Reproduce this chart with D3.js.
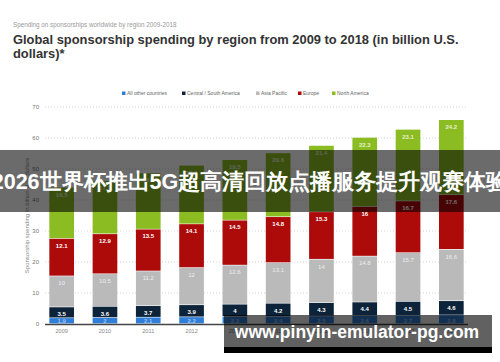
<!DOCTYPE html>
<html>
<head>
<meta charset="utf-8">
<script src="https://cdn.jsdelivr.net/npm/d3@7"></script>
<style>
  body { margin: 0; background: #fff; }
  text { font-family: "Liberation Sans", Arial, sans-serif; }
</style>
</head>
<body>
<script>
const WIDTH = 500;
const HEIGHT = 362;

// data
const years = ["2009", "2010", "2011", "2012", "2013", "2014", "2015", "2016", "2017", "2018**"];
const regions = ["All other countries", "Central / South America", "Asia Pacific", "Europe", "North America"];
const otherCountries = [1.9, 2, 2.1, 2.2, 2.3, 2.4, 2.5, 2.6, 2.7, 2.8];
const centralSouthAmerica = [3.5, 3.6, 3.7, 3.9, 4, 4.2, 4.3, 4.4, 4.5, 4.6];
const asiaPacific = [10, 10.5, 11.2, 12, 12.6, 13.1, 14, 14.8, 15.7, 16.6];
const europe = [12.1, 12.9, 13.5, 14.1, 14.5, 14.8, 15.3, 16, 16.7, 17.6];
const northAmerica = [16.5, 17.1, 18.1, 18.9, 19.5, 20.6, 21.4, 22.3, 23.1, 24.2];
const yTicks = [0, 10, 20, 30, 40, 50, 60, 70];

const colors = ["#2f7ed8", "#0d233a", "#bababa", "#ad0a0a", "#8bbc21"];
const labelColors = ["#9fc3f0", "#fff", "#eee", "#fff", "#e6f0cf"];

const MARGIN = { top: 107, right: 32, bottom: 38, left: 45 };

const svg = d3.select("body")
    .append("svg")
    .attr("width", WIDTH)
    .attr("height", HEIGHT);

// header
svg.append("text")
    .attr("x", 13).attr("y", 27)
    .attr("font-size", 6.3)
    .attr("fill", "#999")
    .text("Spending on sponsorships worldwide by region 2009-2018");

svg.append("text")
    .attr("x", 13).attr("y", 44)
    .attr("font-size", 12.9)
    .attr("font-weight", "bold")
    .attr("fill", "#333")
    .text("Global sponsorship spending by region from 2009 to 2018 (in billion U.S.");
svg.append("text")
    .attr("x", 13).attr("y", 58)
    .attr("font-size", 12.9)
    .attr("font-weight", "bold")
    .attr("fill", "#333")
    .text("dollars)*");

const rows = years.map((y, i) => ({
    year: y,
    [regions[0]]: otherCountries[i],
    [regions[1]]: centralSouthAmerica[i],
    [regions[2]]: asiaPacific[i],
    [regions[3]]: europe[i],
    [regions[4]]: northAmerica[i],
}));

const series = d3.stack().keys(regions)(rows);

const x = d3.scaleBand()
    .domain(years)
    .range([MARGIN.left, WIDTH - MARGIN.right])
    .paddingInner(0.43)
    .paddingOuter(0.1);

const y = d3.scaleLinear()
    .domain([0, 70])
    .range([HEIGHT - MARGIN.bottom, MARGIN.top]);

// grid
svg.append("g")
    .selectAll("line")
    .data(yTicks.filter(d => d > 0))
    .join("line")
    .attr("x1", MARGIN.left).attr("x2", WIDTH - MARGIN.right)
    .attr("y1", d => y(d)).attr("y2", d => y(d))
    .attr("stroke", "#c8c8c8")
    .attr("stroke-width", 0.8)
    .attr("stroke-dasharray", "1,2");

svg.append("g")
    .selectAll("text")
    .data(yTicks)
    .join("text")
    .attr("x", 39)
    .attr("y", d => y(d) + 2)
    .attr("text-anchor", "end")
    .attr("font-size", 6)
    .attr("fill", "#777")
    .text(d => d);

svg.append("text")
    .attr("transform", `translate(29 ${y(35)}) rotate(-90)`)
    .attr("text-anchor", "middle")
    .attr("font-size", 6)
    .attr("fill", "#888")
    .text("Sponsorship spending in billion U.S. dollars");

// bars
const groups = svg.append("g")
    .selectAll("g")
    .data(series)
    .join("g")
    .attr("fill", (d, i) => colors[i]);

groups.selectAll("rect")
    .data(d => d)
    .join("rect")
    .attr("x", d => x(d.data.year))
    .attr("width", x.bandwidth())
    .attr("y", d => y(d[1]))
    .attr("height", d => y(d[0]) - y(d[1]) - 0.6);

groups.each(function (s, i) {
    d3.select(this)
        .selectAll("text")
        .data(s)
        .join("text")
        .attr("x", d => x(d.data.year) + x.bandwidth() / 2)
        .attr("y", d => i === 0 ? y(d[0]) - 1 : y(d[1]) + 9)
        .attr("text-anchor", "middle")
        .attr("font-size", 6)
        .attr("font-weight", i === 2 ? "normal" : "bold")
        .attr("fill", labelColors[i])
        .text(d => d.data[s.key]);
});

// x axis
svg.append("line")
    .attr("x1", MARGIN.left).attr("x2", WIDTH - MARGIN.right)
    .attr("y1", y(0) + 0.5).attr("y2", y(0) + 0.5)
    .attr("stroke", "#444")
    .attr("stroke-width", 1.4);

svg.append("g")
    .selectAll("text")
    .data(years)
    .join("text")
    .attr("x", d => x(d) + x.bandwidth() / 2)
    .attr("y", y(0) + 9)
    .attr("text-anchor", "middle")
    .attr("font-size", 5.6)
    .attr("fill", "#888")
    .text(d => d);

// legend
const legendX = [122, 182, 256, 298, 332];
const legend = svg.append("g")
    .selectAll("g")
    .data(regions)
    .join("g")
    .attr("transform", (d, i) => `translate(${legendX[i]} 95)`);
legend.append("rect")
    .attr("x", 0).attr("y", -3.5)
    .attr("width", 3.5).attr("height", 3.5)
    .attr("fill", (d, i) => colors[i]);
legend.append("text")
    .attr("x", 5).attr("y", 0)
    .attr("font-size", 5)
    .attr("fill", "#666")
    .text(d => d);

// overlay banners on top of the picture
svg.append("rect")
    .attr("x", 0).attr("y", 150)
    .attr("width", WIDTH).attr("height", 62)
    .attr("fill", "rgba(0,0,0,0.58)");
svg.append("text")
    .attr("x", WIDTH / 2).attr("y", 189)
    .attr("text-anchor", "middle")
    .attr("font-family", "'Noto Sans CJK SC', sans-serif")
    .attr("font-size", 21.5)
    .attr("font-weight", "bold")
    .attr("fill", "#fff")
    .text("2026世界杯推出5G超高清回放点播服务提升观赛体验");

svg.append("rect")
    .attr("x", 224).attr("y", 315)
    .attr("width", 268).attr("height", 32)
    .attr("fill", "rgba(0,0,0,0.62)");
svg.append("rect")
    .attr("x", 224).attr("y", 347)
    .attr("width", 268).attr("height", 6)
    .attr("fill", "#000");
svg.append("text")
    .attr("x", 357).attr("y", 338)
    .attr("text-anchor", "middle")
    .attr("font-family", "'Open Sans', 'DejaVu Sans', sans-serif")
    .attr("font-size", 17.5)
    .attr("font-weight", "bold")
    .attr("fill", "#fff")
    .text("www.pinyin-emulator-pg.com");
</script>
</body>
</html>
